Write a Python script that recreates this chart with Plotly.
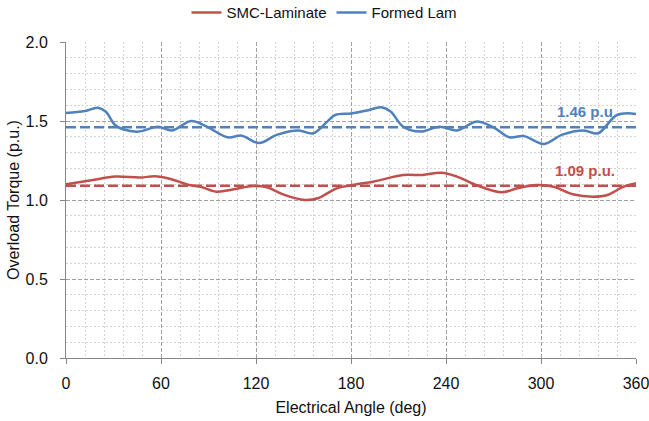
import plotly.graph_objects as go

# Data
angle_formed = [0, 12, 20, 25, 31, 36, 46, 58, 67, 79, 89, 102, 111, 122, 133, 147, 156, 165, 170,
                180, 190, 199, 205, 213, 224, 236, 247, 259, 270, 280, 289, 302, 313, 327, 336, 348, 360]
torque_formed = [1.55, 1.563, 1.584, 1.56, 1.475, 1.448, 1.433, 1.464, 1.44, 1.50, 1.464, 1.397, 1.407,
                 1.36, 1.412, 1.44, 1.422, 1.496, 1.538, 1.548, 1.566, 1.587, 1.56, 1.464, 1.433, 1.464,
                 1.44, 1.496, 1.46, 1.397, 1.405, 1.355, 1.412, 1.44, 1.422, 1.538, 1.545]

angle_smc = [0, 17, 31, 47, 56, 66, 78, 85, 95, 106, 118, 127, 137, 151, 159, 171, 182, 194, 213, 225,
             237, 247, 259, 275, 285, 297, 308, 320, 333, 342, 352, 360]
torque_smc = [1.10, 1.127, 1.148, 1.142, 1.15, 1.133, 1.095, 1.084, 1.053, 1.068, 1.089, 1.081, 1.036,
              1.0, 1.011, 1.074, 1.097, 1.116, 1.158, 1.158, 1.173, 1.148, 1.095, 1.049, 1.074, 1.095,
              1.084, 1.036, 1.021, 1.032, 1.084, 1.106]

avg_range = [0, 360]
avg_formed = 1.46
avg_smc = 1.09
label_formed = "1.46 p.u"
label_smc = "1.09 p.u."
label_x = 328
label_y_formed = 1.557
label_y_smc = 1.185

RED = "#C0504D"
BLUE = "#4F81BD"
FONT = "Liberation Sans"

fig = go.Figure()
fig.add_trace(go.Scatter(x=angle_smc, y=torque_smc, mode="lines", name="SMC-Laminate",
                         line=dict(color=RED, width=2.5, shape="spline")))
fig.add_trace(go.Scatter(x=angle_formed, y=torque_formed, mode="lines", name="Formed Lam",
                         line=dict(color=BLUE, width=2.5, shape="spline")))
fig.add_trace(go.Scatter(x=avg_range, y=[avg_formed, avg_formed], mode="lines", showlegend=False,
                         line=dict(color=BLUE, width=2.5, dash="10px,4px")))
fig.add_trace(go.Scatter(x=avg_range, y=[avg_smc, avg_smc], mode="lines", showlegend=False,
                         line=dict(color=RED, width=2.5, dash="10px,4px")))

fig.add_annotation(x=label_x, y=label_y_formed, text=label_formed, showarrow=False,
                   font=dict(family=FONT, size=15, color=BLUE, weight="bold"))
fig.add_annotation(x=label_x, y=label_y_smc, text=label_smc, showarrow=False,
                   font=dict(family=FONT, size=15, color=RED, weight="bold"))

grid_major = "#a0a0a0"
grid_minor = "#d4d4d4"
axis_col = "#868686"

fig.update_layout(
    width=649, height=421,
    margin=dict(l=66, r=13, t=42, b=63, autoexpand=False),
    paper_bgcolor="white", plot_bgcolor="white",
    font=dict(family=FONT, size=16, color="#111111"),
    legend=dict(orientation="h", xref="container", yref="container", x=0.5, y=0.97,
                xanchor="center", yanchor="middle", font=dict(size=15), itemwidth=30,
                bgcolor="rgba(0,0,0,0)"),
    xaxis=dict(range=[0, 360], tickmode="linear", tick0=0, dtick=60, automargin=False,
               showgrid=True, gridcolor=grid_major, griddash="4px,2px", gridwidth=1,
               minor=dict(dtick=12, showgrid=True, gridcolor=grid_minor, griddash="2px,2px", gridwidth=1),
               showline=True, linecolor=axis_col, linewidth=1, ticks="outside", ticklen=5,
               tickcolor=axis_col, ticklabelstandoff=6, zeroline=False, ticklabeloverflow="allow",
               title=dict(text="Electrical Angle (deg)", font=dict(size=16), standoff=10)),
    yaxis=dict(range=[0, 2], tickmode="linear", tick0=0, dtick=0.5, tickformat=".1f", automargin=False,
               showgrid=True, gridcolor=grid_major, griddash="4px,2px", gridwidth=1,
               minor=dict(dtick=0.1, showgrid=True, gridcolor=grid_minor, griddash="2px,2px", gridwidth=1),
               showline=True, linecolor=axis_col, linewidth=1, ticks="outside", ticklen=5,
               tickcolor=axis_col, ticklabelstandoff=9, zeroline=False, ticklabeloverflow="allow",
               title=dict(text="Overload Torque (p.u.)", font=dict(size=16), standoff=1)),
)

fig.write_html("out.html", config={"displayModeBar": False},
               post_script="document.body.style.margin='0px';document.body.style.overflow='hidden';")
